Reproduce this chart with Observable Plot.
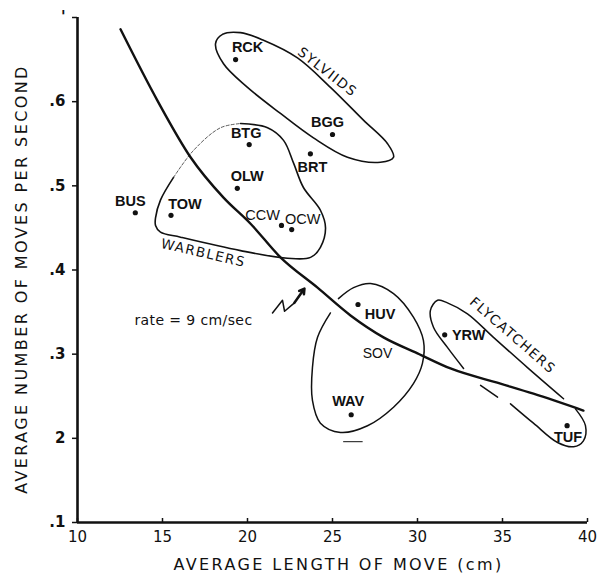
<!DOCTYPE html>
<html>
<head>
<meta charset="utf-8">
<script src="https://cdn.jsdelivr.net/npm/d3@7"></script>
<script src="https://cdn.jsdelivr.net/npm/@observablehq/plot@0.6"></script>
<style>
  html, body { margin: 0; padding: 0; background: #fff; }
  svg { font-family: "Liberation Sans", "DejaVu Sans", sans-serif; }
</style>
</head>
<body>
<div id="chart"></div>
<script>
// ---- data ----
const xTicks = [10, 15, 20, 25, 30, 35, 40];
const yTicks = [0.1, 0.2, 0.3, 0.4, 0.5, 0.6, 0.7];
const yTickLabels = [".1", "2", ".3", ".4", ".5", ".6", "'"];

const species = ["RCK", "BGG", "BRT", "BTG", "OLW", "BUS", "TOW", "CCW", "OCW", "HUV", "WAV", "YRW", "TUF"];
const moveLength = [19.3, 25.0, 23.7, 20.1, 19.4, 13.4, 15.5, 22.0, 22.6, 26.5, 26.1, 31.6, 38.8];
const movesPerSecond = [0.650, 0.561, 0.538, 0.549, 0.497, 0.468, 0.465, 0.453, 0.448, 0.359, 0.228, 0.323, 0.215];

// rate = 9 cm/sec curve
const rateCurveX = [12.53, 14.71, 16.65, 18.59, 20.18, 21.94, 24.12, 26.06, 28.0, 30.0, 31.94, 34.88, 36.82, 39.76];
const rateCurveY = [0.686, 0.601, 0.534, 0.486, 0.455, 0.415, 0.379, 0.346, 0.320, 0.301, 0.283, 0.265, 0.253, 0.233];
const rateLabel = "rate = 9 cm/sec";
const rateLabelAt = [16.82, 0.340];
const rateArrowZig = [[21.47, 0.349], [22.06, 0.364], [22.18, 0.351], [22.76, 0.361]];
const rateArrowHead = [[22.76, 0.361], [23.35, 0.378]];

// group outlines (cm, moves/s)
const sylviidsOutline = [[18.12,0.669],[18.53,0.680],[19.59,0.682],[20.94,0.673],[22.94,0.652],[24.88,0.617],[26.82,0.578],[28.24,0.550],[28.59,0.534],[27.82,0.528],[25.88,0.534],[23.88,0.557],[21.94,0.586],[20.0,0.617],[18.59,0.645]];
const warblersOutline = [[19.59,0.574],[21.18,0.569],[22.12,0.554],[22.71,0.527],[23.29,0.498],[24.29,0.471],[24.59,0.450],[24.29,0.427],[23.71,0.415],[22.35,0.414],[19.59,0.423],[16.06,0.439],[14.88,0.445],[14.59,0.453],[14.59,0.462],[14.88,0.483],[15.65,0.510]];
const warblersFaint = [[15.65,0.510],[16.82,0.542],[18.41,0.569],[19.59,0.574]];
const vireosOutline = [[24.88,0.349],[24.12,0.320],[23.82,0.284],[23.82,0.245],[24.29,0.218],[25.47,0.207],[27.06,0.215],[28.59,0.237],[29.76,0.265],[30.29,0.289],[30.35,0.316],[29.76,0.344],[28.59,0.372],[27.24,0.384],[26.24,0.379],[25.35,0.366]];
const vireosDash = [[25.65,0.196],[26.75,0.196]];
const flycatchersUpper = [[32.71,0.283],[31.76,0.308],[30.94,0.332],[30.76,0.352],[31.18,0.364],[31.76,0.361],[32.94,0.348],[34.47,0.320],[36.47,0.284],[38.59,0.247]];
const flycatchersLower = [[39.29,0.235],[39.88,0.215],[39.76,0.197],[39.18,0.190],[38.24,0.195],[36.82,0.218],[35.47,0.241]];
const flycatchersDash = [[33.71,0.263],[34.71,0.249]];

const groupNames = ["SYLVIIDS", "WARBLERS", "FLYCATCHERS"];
const groupLabelX = [24.7, 17.4, 35.6];
const groupLabelY = [0.635, 0.420, 0.322];
const sovLabel = ["SOV", 27.65, 0.301];

const xTitle = "AVERAGE LENGTH OF MOVE (cm)";
const yTitle = "AVERAGE NUMBER OF MOVES PER SECOND";

// ---- styling / label placement (pixels) ----
const labelOffset = {
  RCK: [12, -12], BGG: [-5, -12], BRT: [2, 14], BTG: [-3, -11], OLW: [10, -12],
  BUS: [-5, -11], TOW: [14, -11], CCW: [-19, -10], OCW: [11, -10], HUV: [22, 10],
  WAV: [-3, -13], YRW: [24, 1], TUF: [1, 12]
};
const lightLabels = new Set(["CCW", "OCW"]);
const groupAngles = [38, 13, 41];

const points = species.map((s, i) => ({s, x: moveLength[i], y: movesPerSecond[i]}));
const curve = rateCurveX.map((x, i) => ({x, y: rateCurveY[i]}));
const groups = groupNames.map((g, i) => ({g, x: groupLabelX[i], y: groupLabelY[i], a: groupAngles[i]}));
const P = a => a.map(([x, y]) => ({x, y}));

const labelMarks = points.map(p => Plot.text([p], {
  x: "x", y: "y", text: "s",
  dx: labelOffset[p.s][0], dy: labelOffset[p.s][1],
  fontSize: 14.5, fontWeight: lightLabels.has(p.s) ? "normal" : "bold",
  fill: "#111"
}));

const groupMarks = groups.map(g => Plot.text([g], {
  x: "x", y: "y", text: "g", rotate: g.a, fontSize: 13.5, fill: "#111"
}));

const chart = Plot.plot({
  width: 598,
  height: 580,
  marginLeft: 77,
  marginRight: 11,
  marginTop: 17,
  marginBottom: 58,
  x: {domain: [10, 40]},
  y: {domain: [0.1, 0.7]},
  style: {background: "#fff", color: "#111"},
  marks: [
    Plot.axisX(xTicks, {tickSize: -4, tickPadding: 13, fontSize: 15, label: null, strokeWidth: 1.5}),
    Plot.axisY(yTicks, {tickSize: 5, tickPadding: 7, fontSize: 15, fontWeight: "bold", label: null, strokeWidth: 1.5,
      tickFormat: d => yTickLabels[yTicks.indexOf(d)]}),
    Plot.ruleX([10], {strokeWidth: 2.6, stroke: "#111"}),
    Plot.ruleY([0.1], {strokeWidth: 2.6, stroke: "#111"}),
    Plot.text([xTitle], {frameAnchor: "bottom", textAnchor: "middle", dy: 47, dx: 6, fontSize: 16, fill: "#111"}),
    Plot.text([yTitle], {frameAnchor: "left", textAnchor: "middle", rotate: -90, dx: -56, dy: 9, fontSize: 16, fill: "#111"}),
    // group outlines
    Plot.line(P(sylviidsOutline), {x: "x", y: "y", curve: "catmull-rom-closed", strokeWidth: 1.6, stroke: "#111"}),
    Plot.line(P(warblersOutline), {x: "x", y: "y", curve: "catmull-rom", strokeWidth: 1.6, stroke: "#111"}),
    Plot.line(P(warblersFaint), {x: "x", y: "y", curve: "catmull-rom", strokeWidth: 0.8, strokeDasharray: "3,2", stroke: "#333"}),
    Plot.line(P(vireosOutline), {x: "x", y: "y", curve: "catmull-rom", strokeWidth: 1.5, stroke: "#111"}),
    Plot.line(P(vireosDash), {x: "x", y: "y", strokeWidth: 1, stroke: "#111"}),
    Plot.line(P(flycatchersUpper), {x: "x", y: "y", curve: "catmull-rom", strokeWidth: 1.5, stroke: "#111"}),
    Plot.line(P(flycatchersLower), {x: "x", y: "y", curve: "catmull-rom", strokeWidth: 1.5, stroke: "#111"}),
    Plot.line(P(flycatchersDash), {x: "x", y: "y", strokeWidth: 1.5, stroke: "#111"}),
    // rate curve
    Plot.line(curve, {x: "x", y: "y", curve: "monotone-x", strokeWidth: 2.4, stroke: "#111"}),
    Plot.line(P(rateArrowZig), {x: "x", y: "y", strokeWidth: 1.5, stroke: "#111"}),
    Plot.arrow([rateArrowHead], {x1: d => d[0][0], y1: d => d[0][1], x2: d => d[1][0], y2: d => d[1][1],
      strokeWidth: 2.5, headLength: 9, stroke: "#111"}),
    Plot.text([rateLabel], {x: rateLabelAt[0], y: rateLabelAt[1], fontSize: 14, fill: "#111"}),
    // points
    Plot.dot(points, {x: "x", y: "y", r: 2.6, fill: "#111"}),
    ...labelMarks,
    ...groupMarks,
    Plot.text([sovLabel], {x: d => d[1], y: d => d[2], text: d => d[0], fontSize: 14, fill: "#111"})
  ]
});

// typographic touches by text content
const dejavu = '"DejaVu Sans", sans-serif';
d3.select(chart).selectAll("text").each(function() {
  const t = this.textContent;
  const s = d3.select(this);
  if (t === xTitle || t === yTitle) {
    s.style("font-family", dejavu).style("letter-spacing", "2.4px");
  } else if (groupNames.includes(t)) {
    s.style("font-family", dejavu).style("letter-spacing", "1.5px");
  } else if (t === rateLabel) {
    s.style("font-family", dejavu).style("letter-spacing", "0.4px");
  } else if (yTickLabels.includes(t) || xTicks.map(String).includes(t)) {
    s.style("font-family", dejavu);
  }
});
document.getElementById("chart").appendChild(chart);
</script>
</body>
</html>
